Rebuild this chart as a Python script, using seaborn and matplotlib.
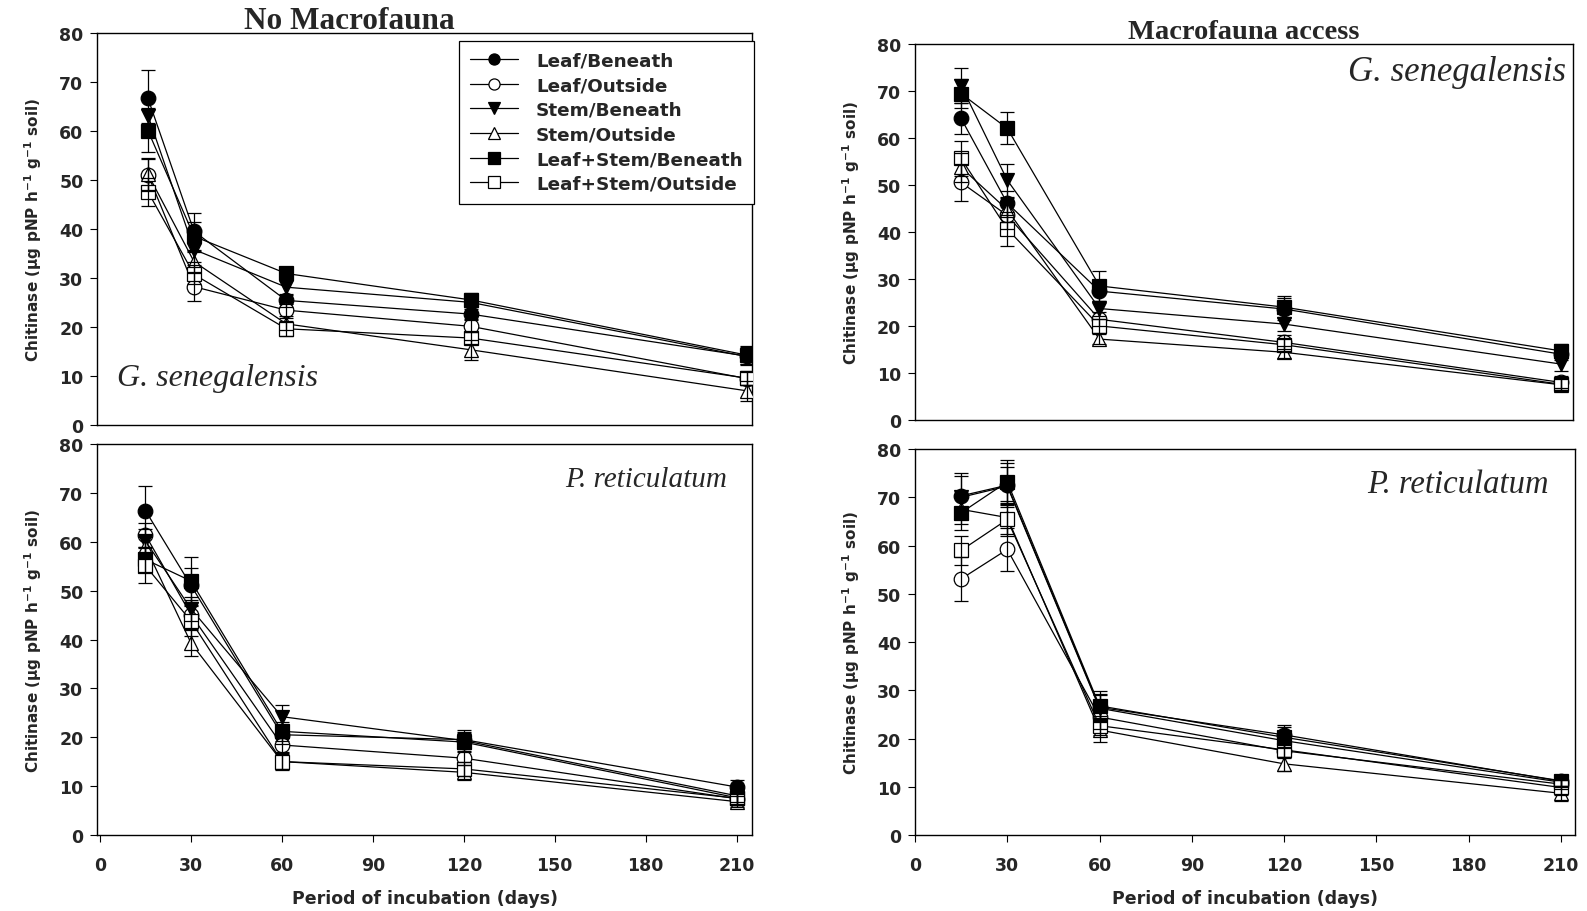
import numpy as np
import pandas as pd
import matplotlib
matplotlib.use("Agg")
import matplotlib.pyplot as plt
import seaborn as sns
from matplotlib.lines import Line2D

sns.set_theme(style="white")
plt.rcParams["font.family"] = ["DejaVu Sans"]

# Sampling days
days = [15, 30, 60, 120, 210]

treatments = ["Leaf/Beneath", "Leaf/Outside", "Stem/Beneath",
              "Stem/Outside", "Leaf+Stem/Beneath", "Leaf+Stem/Outside"]

# G. senegalensis, no macrofauna
gs_nomacro = {
    "Leaf/Beneath":      [66.7, 39.5, 25.4, 22.6, 14.0],
    "Leaf/Outside":      [51.1, 28.2, 23.4, 20.1, 9.4],
    "Stem/Beneath":      [63.2, 35.8, 28.1, 25.0, 13.9],
    "Stem/Outside":      [51.2, 33.3, 20.6, 15.3, 6.9],
    "Leaf+Stem/Beneath": [60.1, 38.5, 30.9, 25.5, 14.2],
    "Leaf+Stem/Outside": [47.6, 30.7, 19.6, 17.7, 9.5],
}
gs_nomacro_err = {
    "Leaf/Beneath":      [5.9, 3.8, 1.3, 1.0, 1.8],
    "Leaf/Outside":      [3.3, 2.9, 1.2, 1.2, 1.3],
    "Stem/Beneath":      [1.5, 2.5, 1.5, 1.0, 1.5],
    "Stem/Outside":      [3.3, 2.0, 1.2, 2.0, 2.0],
    "Leaf+Stem/Beneath": [4.4, 3.0, 1.3, 1.5, 1.8],
    "Leaf+Stem/Outside": [2.8, 2.0, 1.5, 1.2, 1.5],
}

# G. senegalensis, macrofauna access
gs_macro = {
    "Leaf/Beneath":      [64.1, 46.1, 27.4, 23.6, 14.0],
    "Leaf/Outside":      [50.5, 43.5, 21.4, 16.5, 8.0],
    "Stem/Beneath":      [71.1, 51.0, 23.7, 20.4, 11.9],
    "Stem/Outside":      [53.7, 44.7, 17.2, 14.4, 7.5],
    "Leaf+Stem/Beneath": [69.4, 62.0, 28.5, 24.0, 14.7],
    "Leaf+Stem/Outside": [55.6, 40.6, 20.0, 16.0, 7.6],
}
gs_macro_err = {
    "Leaf/Beneath":      [3.3, 2.5, 2.0, 2.4, 1.2],
    "Leaf/Outside":      [3.9, 3.0, 1.5, 1.5, 1.3],
    "Stem/Beneath":      [3.7, 3.5, 1.5, 1.5, 1.5],
    "Stem/Outside":      [3.0, 2.5, 1.0, 1.3, 1.2],
    "Leaf+Stem/Beneath": [3.0, 3.4, 3.1, 2.4, 1.5],
    "Leaf+Stem/Outside": [3.8, 3.7, 1.5, 1.3, 1.3],
}

# P. reticulatum, no macrofauna
pr_nomacro = {
    "Leaf/Beneath":      [66.4, 51.1, 20.5, 19.5, 9.8],
    "Leaf/Outside":      [61.4, 45.1, 18.4, 15.7, 7.4],
    "Stem/Beneath":      [60.2, 46.3, 24.2, 19.3, 8.0],
    "Stem/Outside":      [59.0, 39.3, 15.0, 12.8, 6.8],
    "Leaf+Stem/Beneath": [56.4, 52.0, 21.2, 19.0, 7.6],
    "Leaf+Stem/Outside": [55.1, 43.8, 15.0, 13.5, 7.5],
}
pr_nomacro_err = {
    "Leaf/Beneath":      [5.0, 3.5, 2.0, 2.0, 1.4],
    "Leaf/Outside":      [2.5, 3.0, 1.5, 1.5, 1.2],
    "Stem/Beneath":      [2.5, 2.5, 2.4, 1.5, 1.2],
    "Stem/Outside":      [2.0, 2.7, 1.5, 1.5, 1.2],
    "Leaf+Stem/Beneath": [2.5, 4.9, 2.0, 2.0, 1.2],
    "Leaf+Stem/Outside": [3.6, 3.0, 1.7, 1.5, 1.3],
}

# P. reticulatum, macrofauna access
pr_macro = {
    "Leaf/Beneath":      [70.3, 72.5, 26.5, 20.8, 11.2],
    "Leaf/Outside":      [53.1, 59.2, 24.5, 17.5, 10.6],
    "Stem/Beneath":      [70.0, 72.3, 26.3, 19.6, 11.0],
    "Stem/Outside":      [67.5, 65.8, 21.8, 14.8, 8.7],
    "Leaf+Stem/Beneath": [66.8, 73.2, 26.8, 20.3, 11.3],
    "Leaf+Stem/Outside": [59.0, 65.4, 22.7, 17.7, 9.9],
}
pr_macro_err = {
    "Leaf/Beneath":      [4.7, 4.5, 2.8, 2.0, 1.0],
    "Leaf/Outside":      [4.5, 4.4, 2.5, 1.5, 1.0],
    "Stem/Beneath":      [4.5, 4.0, 2.8, 1.5, 1.0],
    "Stem/Outside":      [3.0, 3.5, 2.5, 1.5, 1.5],
    "Leaf+Stem/Beneath": [3.5, 4.5, 3.0, 2.1, 1.0],
    "Leaf+Stem/Outside": [3.0, 3.5, 2.0, 1.5, 1.5],
}

# marker shape and face colour per treatment
marker_style = {
    "Leaf/Beneath":      ("o", "black"),
    "Leaf/Outside":      ("o", "white"),
    "Stem/Beneath":      ("v", "black"),
    "Stem/Outside":      ("^", "white"),
    "Leaf+Stem/Beneath": ("s", "black"),
    "Leaf+Stem/Outside": ("s", "white"),
}

W, H = 1587, 912
fig = plt.figure(figsize=(W / 100, H / 100), dpi=100)


def px_axes(left, right, top, bottom):
    return fig.add_axes([left / W, 1 - bottom / H, (right - left) / W, (bottom - top) / H])


ax_tl = px_axes(97.3, 751.7, 34.4, 425.6)
ax_bl = px_axes(97.3, 751.7, 445.3, 835.8)
ax_tr = px_axes(915, 1573, 44.7, 421.0)
ax_br = px_axes(915, 1575, 450.0, 836.3)

panels = [
    (ax_tl, gs_nomacro, gs_nomacro_err, (-1.5, 211.5), False),
    (ax_bl, pr_nomacro, pr_nomacro_err, (-0.9, 215.0), True),
    (ax_tr, gs_macro, gs_macro_err, (0, 214.0), False),
    (ax_br, pr_macro, pr_macro_err, (0, 214.6), True),
]

ylabel_text = "Chitinase (\u00b5g pNP h$^{\\mathbf{-1}}$ g$^{\\mathbf{-1}}$ soil)"

for ax, values, errs, xlim, show_x in panels:
    rows = []
    for t in treatments:
        for d, v in zip(days, values[t]):
            rows.append({"day": d, "value": v, "treatment": t})
    df = pd.DataFrame(rows)
    for t in treatments:
        m, fc = marker_style[t]
        sub = df[df["treatment"] == t]
        sns.lineplot(data=sub, x="day", y="value", ax=ax, color="black",
                     linewidth=0.9, marker=m, markersize=10 if m != "o" else 10.5,
                     markerfacecolor=fc, markeredgecolor="black",
                     markeredgewidth=0.9, legend=False, zorder=3)
        ax.errorbar(days, values[t], yerr=errs[t], fmt="none", ecolor="black",
                    elinewidth=0.9, capsize=5, capthick=0.9, zorder=4)
    ax.set_xlim(*xlim)
    ax.set_ylim(0, 80)
    ax.set_yticks(range(0, 81, 10))
    ax.set_xticks(range(0, 211, 30))
    for s in ax.spines.values():
        s.set_color("black")
        s.set_linewidth(1.0)
    ax.tick_params(axis="y", direction="out", length=5, width=0.8, pad=5,
                   left=True, labelsize=12.5, color="black")
    for lab in ax.get_yticklabels():
        lab.set_fontweight("bold")
    ax.set_ylabel(ylabel_text, fontsize=11, fontweight="bold", labelpad=11)
    if show_x:
        ax.tick_params(axis="x", direction="out", length=5, width=0.8, pad=10,
                       bottom=True, labelsize=12.5, color="black")
        for lab in ax.get_xticklabels():
            lab.set_fontweight("bold")
        ax.set_xlabel("Period of incubation (days)", fontsize=12.5, fontweight="bold",
                      labelpad=11)
    else:
        ax.tick_params(axis="x", bottom=False, labelbottom=False)
        ax.set_xlabel("")

# panel titles
serif = ["Liberation Serif", "DejaVu Serif"]
ax_tl.text(0.385, 0.997, "No Macrofauna", transform=ax_tl.transAxes, ha="center",
           va="bottom", family=serif, fontsize=22.5, fontweight="bold")
ax_tr.set_title("Macrofauna access", family=serif, fontsize=20.5, fontweight="bold", pad=-1)

# species labels
sp = dict(family=serif, style="italic")
ax_tl.text(0.03, 0.12, "G. senegalensis", transform=ax_tl.transAxes, ha="left",
           va="center", fontsize=23, **sp)
ax_tr.text(0.99, 0.925, "G. senegalensis", transform=ax_tr.transAxes, ha="right",
           va="center", fontsize=25, **sp)
ax_bl.text(0.962, 0.91, "P. reticulatum", transform=ax_bl.transAxes, ha="right",
           va="center", fontsize=21, **sp)
ax_br.text(0.96, 0.91, "P. reticulatum", transform=ax_br.transAxes, ha="right",
           va="center", fontsize=23.5, **sp)

# legend
handles = []
for t in treatments:
    m, fc = marker_style[t]
    handles.append(Line2D([0], [0], color="black", linewidth=0.9, marker=m,
                          markersize=8, markerfacecolor=fc, markeredgecolor="black",
                          markeredgewidth=0.9))
leg = ax_tl.legend(handles, treatments, loc="upper left",
                   bbox_to_anchor=(459 / W, 1 - 41.7 / H), bbox_transform=fig.transFigure,
                   frameon=True, fancybox=False, edgecolor="black", framealpha=1,
                   prop=dict(weight="bold", size=13.2), handlelength=2.6,
                   labelspacing=0.36, borderpad=0.6, handletextpad=1.0, borderaxespad=0)
leg.get_frame().set_linewidth(0.9)

fig.savefig("out.png", dpi=100)
